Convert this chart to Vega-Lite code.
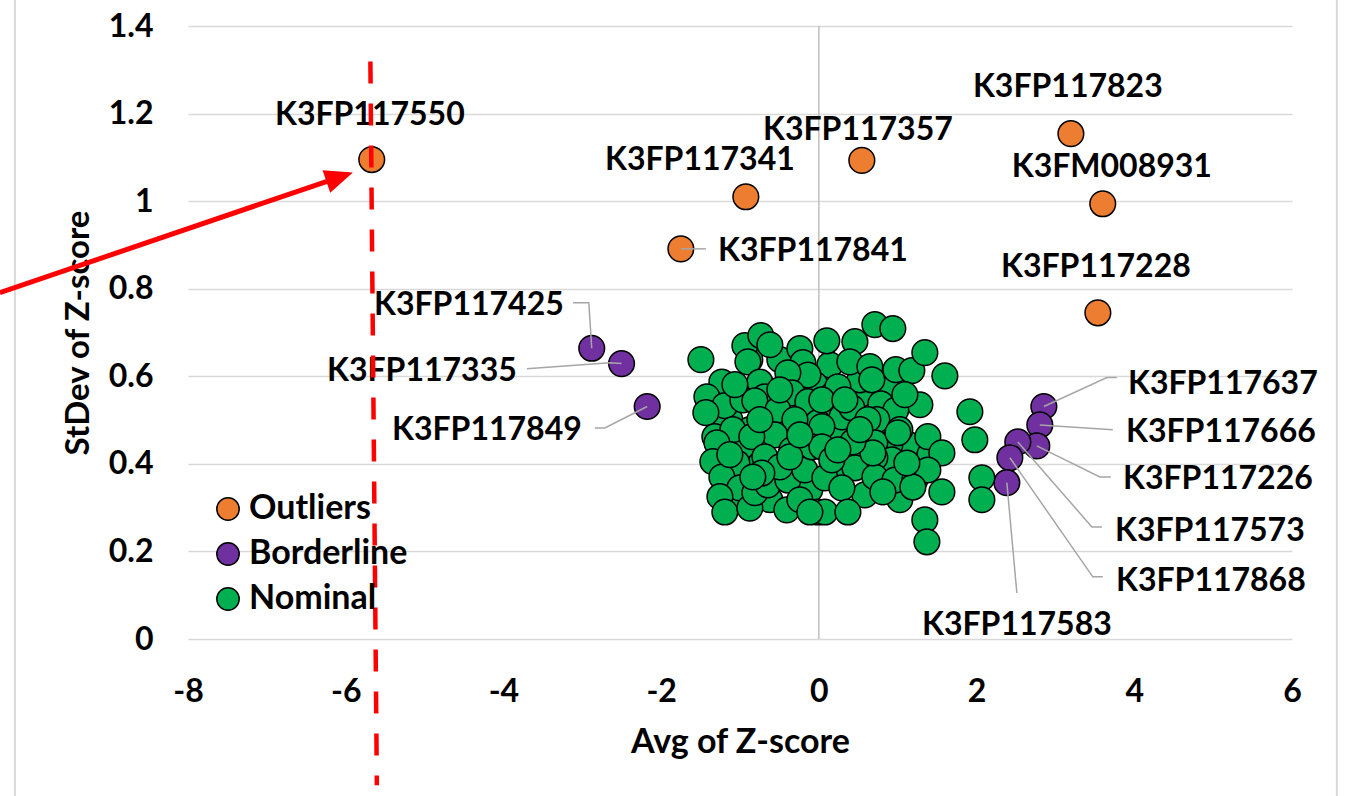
{
  "$schema": "https://vega.github.io/schema/vega-lite/v6.json",
  "width": 1104,
  "height": 613,
  "autosize": {"type": "none"},
  "padding": {"left": 188, "top": 26, "right": 53, "bottom": 157},
  "background": "white",
  "config": {"font": "Lato", "view": {"stroke": null}},
  "datasets": {
    "pts": [
      {"name": "K3FP117550", "x": -5.67, "y": 1.095, "cat": "Outliers"},
      {"name": "K3FP117341", "x": -0.926, "y": 1.010, "cat": "Outliers"},
      {"name": "K3FP117357", "x": 0.545, "y": 1.093, "cat": "Outliers"},
      {"name": "K3FP117841", "x": -1.75, "y": 0.891, "cat": "Outliers"},
      {"name": "K3FP117823", "x": 3.196, "y": 1.154, "cat": "Outliers"},
      {"name": "K3FM008931", "x": 3.60, "y": 0.994, "cat": "Outliers"},
      {"name": "K3FP117228", "x": 3.538, "y": 0.745, "cat": "Outliers"},
      {"name": "K3FP117425", "x": -2.88, "y": 0.664, "cat": "Borderline"},
      {"name": "K3FP117335", "x": -2.502, "y": 0.629, "cat": "Borderline"},
      {"name": "K3FP117849", "x": -2.177, "y": 0.531, "cat": "Borderline"},
      {"name": "K3FP117637", "x": 2.853, "y": 0.531, "cat": "Borderline"},
      {"name": "K3FP117666", "x": 2.802, "y": 0.489, "cat": "Borderline"},
      {"name": "K3FP117226", "x": 2.764, "y": 0.441, "cat": "Borderline"},
      {"name": "K3FP117573", "x": 2.523, "y": 0.450, "cat": "Borderline"},
      {"name": "K3FP117868", "x": 2.422, "y": 0.414, "cat": "Borderline"},
      {"name": "K3FP117583", "x": 2.384, "y": 0.357, "cat": "Borderline"},
      {"x": -1.129, "y": 0.501, "cat": "Nominal"},
      {"x": -0.938, "y": 0.432, "cat": "Nominal"},
      {"x": -0.748, "y": 0.398, "cat": "Nominal"},
      {"x": -0.368, "y": 0.455, "cat": "Nominal"},
      {"x": -0.178, "y": 0.489, "cat": "Nominal"},
      {"x": 0.139, "y": 0.523, "cat": "Nominal"},
      {"x": 0.520, "y": 0.558, "cat": "Nominal"},
      {"x": 0.837, "y": 0.501, "cat": "Nominal"},
      {"x": 1.154, "y": 0.443, "cat": "Nominal"},
      {"x": 0.900, "y": 0.443, "cat": "Nominal"},
      {"x": 0.520, "y": 0.409, "cat": "Nominal"},
      {"x": 0.266, "y": 0.386, "cat": "Nominal"},
      {"x": -0.114, "y": 0.341, "cat": "Nominal"},
      {"x": -0.621, "y": 0.318, "cat": "Nominal"},
      {"x": -1.065, "y": 0.318, "cat": "Nominal"},
      {"x": 0.583, "y": 0.329, "cat": "Nominal"},
      {"x": 1.027, "y": 0.318, "cat": "Nominal"},
      {"x": 1.408, "y": 0.421, "cat": "Nominal"},
      {"x": -0.495, "y": 0.638, "cat": "Nominal"},
      {"x": 0.139, "y": 0.626, "cat": "Nominal"},
      {"x": 0.520, "y": 0.592, "cat": "Nominal"},
      {"x": 0.900, "y": 0.569, "cat": "Nominal"},
      {"x": -1.255, "y": 0.501, "cat": "Nominal"},
      {"x": -0.875, "y": 0.638, "cat": "Nominal"},
      {"x": -0.051, "y": 0.581, "cat": "Nominal"},
      {"x": 0.266, "y": 0.466, "cat": "Nominal"},
      {"x": 1.281, "y": 0.535, "cat": "Nominal"},
      {"x": -1.496, "y": 0.638, "cat": "Nominal"},
      {"x": -0.938, "y": 0.670, "cat": "Nominal"},
      {"x": -0.736, "y": 0.693, "cat": "Nominal"},
      {"x": -0.621, "y": 0.672, "cat": "Nominal"},
      {"x": -0.900, "y": 0.633, "cat": "Nominal"},
      {"x": -0.241, "y": 0.663, "cat": "Nominal"},
      {"x": -0.203, "y": 0.631, "cat": "Nominal"},
      {"x": -0.139, "y": 0.603, "cat": "Nominal"},
      {"x": -0.393, "y": 0.608, "cat": "Nominal"},
      {"x": -0.748, "y": 0.587, "cat": "Nominal"},
      {"x": -1.230, "y": 0.587, "cat": "Nominal"},
      {"x": 0.101, "y": 0.681, "cat": "Nominal"},
      {"x": 0.457, "y": 0.679, "cat": "Nominal"},
      {"x": 0.710, "y": 0.718, "cat": "Nominal"},
      {"x": 0.938, "y": 0.709, "cat": "Nominal"},
      {"x": 0.393, "y": 0.633, "cat": "Nominal"},
      {"x": 0.647, "y": 0.622, "cat": "Nominal"},
      {"x": 0.672, "y": 0.592, "cat": "Nominal"},
      {"x": 0.976, "y": 0.615, "cat": "Nominal"},
      {"x": 1.179, "y": 0.613, "cat": "Nominal"},
      {"x": 1.344, "y": 0.654, "cat": "Nominal"},
      {"x": 1.598, "y": 0.601, "cat": "Nominal"},
      {"x": -1.420, "y": 0.553, "cat": "Nominal"},
      {"x": -1.192, "y": 0.533, "cat": "Nominal"},
      {"x": -1.433, "y": 0.517, "cat": "Nominal"},
      {"x": -0.964, "y": 0.546, "cat": "Nominal"},
      {"x": -0.685, "y": 0.553, "cat": "Nominal"},
      {"x": -0.812, "y": 0.544, "cat": "Nominal"},
      {"x": -0.342, "y": 0.562, "cat": "Nominal"},
      {"x": -0.139, "y": 0.542, "cat": "Nominal"},
      {"x": -0.520, "y": 0.523, "cat": "Nominal"},
      {"x": -0.013, "y": 0.494, "cat": "Nominal"},
      {"x": -0.304, "y": 0.501, "cat": "Nominal"},
      {"x": -0.875, "y": 0.478, "cat": "Nominal"},
      {"x": -1.319, "y": 0.462, "cat": "Nominal"},
      {"x": -0.558, "y": 0.466, "cat": "Nominal"},
      {"x": -1.091, "y": 0.478, "cat": "Nominal"},
      {"x": 0.178, "y": 0.558, "cat": "Nominal"},
      {"x": 0.241, "y": 0.576, "cat": "Nominal"},
      {"x": 0.038, "y": 0.546, "cat": "Nominal"},
      {"x": 0.292, "y": 0.507, "cat": "Nominal"},
      {"x": 0.418, "y": 0.528, "cat": "Nominal"},
      {"x": 0.786, "y": 0.537, "cat": "Nominal"},
      {"x": 0.976, "y": 0.523, "cat": "Nominal"},
      {"x": 0.735, "y": 0.501, "cat": "Nominal"},
      {"x": 1.027, "y": 0.478, "cat": "Nominal"},
      {"x": 0.038, "y": 0.485, "cat": "Nominal"},
      {"x": 0.621, "y": 0.501, "cat": "Nominal"},
      {"x": 1.382, "y": 0.462, "cat": "Nominal"},
      {"x": 1.915, "y": 0.519, "cat": "Nominal"},
      {"x": 1.978, "y": 0.455, "cat": "Nominal"},
      {"x": -1.293, "y": 0.448, "cat": "Nominal"},
      {"x": -0.850, "y": 0.462, "cat": "Nominal"},
      {"x": -0.685, "y": 0.416, "cat": "Nominal"},
      {"x": -1.040, "y": 0.402, "cat": "Nominal"},
      {"x": -1.344, "y": 0.405, "cat": "Nominal"},
      {"x": -1.230, "y": 0.370, "cat": "Nominal"},
      {"x": -1.002, "y": 0.345, "cat": "Nominal"},
      {"x": -1.255, "y": 0.325, "cat": "Nominal"},
      {"x": -1.192, "y": 0.290, "cat": "Nominal"},
      {"x": -0.875, "y": 0.299, "cat": "Nominal"},
      {"x": -0.812, "y": 0.334, "cat": "Nominal"},
      {"x": -0.647, "y": 0.352, "cat": "Nominal"},
      {"x": -0.393, "y": 0.363, "cat": "Nominal"},
      {"x": -0.178, "y": 0.386, "cat": "Nominal"},
      {"x": -0.342, "y": 0.432, "cat": "Nominal"},
      {"x": -0.089, "y": 0.439, "cat": "Nominal"},
      {"x": -0.406, "y": 0.295, "cat": "Nominal"},
      {"x": -0.241, "y": 0.318, "cat": "Nominal"},
      {"x": -0.013, "y": 0.290, "cat": "Nominal"},
      {"x": -0.495, "y": 0.393, "cat": "Nominal"},
      {"x": -0.723, "y": 0.379, "cat": "Nominal"},
      {"x": 0.038, "y": 0.439, "cat": "Nominal"},
      {"x": 0.418, "y": 0.432, "cat": "Nominal"},
      {"x": 0.710, "y": 0.448, "cat": "Nominal"},
      {"x": 1.002, "y": 0.471, "cat": "Nominal"},
      {"x": 1.560, "y": 0.425, "cat": "Nominal"},
      {"x": 0.926, "y": 0.409, "cat": "Nominal"},
      {"x": 0.710, "y": 0.414, "cat": "Nominal"},
      {"x": 0.457, "y": 0.391, "cat": "Nominal"},
      {"x": 0.076, "y": 0.368, "cat": "Nominal"},
      {"x": 0.292, "y": 0.345, "cat": "Nominal"},
      {"x": 0.710, "y": 0.370, "cat": "Nominal"},
      {"x": 0.964, "y": 0.363, "cat": "Nominal"},
      {"x": 1.217, "y": 0.363, "cat": "Nominal"},
      {"x": 1.382, "y": 0.386, "cat": "Nominal"},
      {"x": 0.812, "y": 0.336, "cat": "Nominal"},
      {"x": 1.192, "y": 0.347, "cat": "Nominal"},
      {"x": 1.560, "y": 0.336, "cat": "Nominal"},
      {"x": 0.076, "y": 0.290, "cat": "Nominal"},
      {"x": 0.368, "y": 0.290, "cat": "Nominal"},
      {"x": 1.344, "y": 0.272, "cat": "Nominal"},
      {"x": 1.370, "y": 0.222, "cat": "Nominal"},
      {"x": 2.067, "y": 0.368, "cat": "Nominal"},
      {"x": 2.067, "y": 0.318, "cat": "Nominal"},
      {"x": 0.165, "y": 0.409, "cat": "Nominal"},
      {"x": 1.116, "y": 0.402, "cat": "Nominal"},
      {"x": 0.685, "y": 0.425, "cat": "Nominal"},
      {"x": 0.431, "y": 0.450, "cat": "Nominal"},
      {"x": -0.837, "y": 0.370, "cat": "Nominal"},
      {"x": -0.114, "y": 0.290, "cat": "Nominal"},
      {"x": 0.241, "y": 0.432, "cat": "Nominal"},
      {"x": -0.368, "y": 0.416, "cat": "Nominal"},
      {"x": -0.495, "y": 0.569, "cat": "Nominal"},
      {"x": -0.748, "y": 0.501, "cat": "Nominal"},
      {"x": -1.129, "y": 0.421, "cat": "Nominal"},
      {"x": 0.520, "y": 0.478, "cat": "Nominal"},
      {"x": -0.241, "y": 0.466, "cat": "Nominal"},
      {"x": 0.330, "y": 0.546, "cat": "Nominal"},
      {"x": -1.065, "y": 0.581, "cat": "Nominal"},
      {"x": 1.091, "y": 0.558, "cat": "Nominal"}
    ],
    "labels": [
      {"name": "K3FP117550", "x": -5.694, "y": 1.202},
      {"name": "K3FP117341", "x": -1.509, "y": 1.099},
      {"name": "K3FP117357", "x": 0.495, "y": 1.168},
      {"name": "K3FP117841", "x": -0.076, "y": 0.891},
      {"name": "K3FP117823", "x": 3.157, "y": 1.266},
      {"name": "K3FM008931", "x": 3.715, "y": 1.083},
      {"name": "K3FP117228", "x": 3.513, "y": 0.855},
      {"name": "K3FP117425", "x": -4.438, "y": 0.768},
      {"name": "K3FP117335", "x": -5.034, "y": 0.617},
      {"name": "K3FP117849", "x": -4.210, "y": 0.482},
      {"name": "K3FP117637", "x": 5.123, "y": 0.587},
      {"name": "K3FP117666", "x": 5.098, "y": 0.478},
      {"name": "K3FP117226", "x": 5.060, "y": 0.370},
      {"name": "K3FP117573", "x": 4.958, "y": 0.251},
      {"name": "K3FP117868", "x": 4.971, "y": 0.137},
      {"name": "K3FP117583", "x": 2.511, "y": 0.037}
    ],
    "leaders": [
      {"name": "K3FP117841", "ord": 1, "x": -1.75, "y": 0.891},
      {"name": "K3FP117841", "ord": 2, "x": -1.433, "y": 0.891},
      {"name": "K3FP117425", "ord": 1, "x": -2.88, "y": 0.664},
      {"name": "K3FP117425", "ord": 2, "x": -2.917, "y": 0.768},
      {"name": "K3FP117425", "ord": 3, "x": -3.119, "y": 0.768},
      {"name": "K3FP117335", "ord": 1, "x": -2.502, "y": 0.629},
      {"name": "K3FP117335", "ord": 2, "x": -2.650, "y": 0.631},
      {"name": "K3FP117335", "ord": 3, "x": -3.703, "y": 0.617},
      {"name": "K3FP117849", "ord": 1, "x": -2.177, "y": 0.531},
      {"name": "K3FP117849", "ord": 2, "x": -2.714, "y": 0.482},
      {"name": "K3FP117849", "ord": 3, "x": -2.840, "y": 0.482},
      {"name": "K3FP117637", "ord": 1, "x": 2.853, "y": 0.531},
      {"name": "K3FP117637", "ord": 2, "x": 3.652, "y": 0.597},
      {"name": "K3FP117637", "ord": 3, "x": 3.779, "y": 0.597},
      {"name": "K3FP117666", "ord": 1, "x": 2.802, "y": 0.489},
      {"name": "K3FP117666", "ord": 2, "x": 3.728, "y": 0.478},
      {"name": "K3FP117226", "ord": 1, "x": 2.764, "y": 0.441},
      {"name": "K3FP117226", "ord": 2, "x": 3.563, "y": 0.370},
      {"name": "K3FP117226", "ord": 3, "x": 3.703, "y": 0.370},
      {"name": "K3FP117573", "ord": 1, "x": 2.523, "y": 0.450},
      {"name": "K3FP117573", "ord": 2, "x": 3.462, "y": 0.256},
      {"name": "K3FP117573", "ord": 3, "x": 3.589, "y": 0.256},
      {"name": "K3FP117868", "ord": 1, "x": 2.422, "y": 0.414},
      {"name": "K3FP117868", "ord": 2, "x": 3.474, "y": 0.142},
      {"name": "K3FP117868", "ord": 3, "x": 3.601, "y": 0.142},
      {"name": "K3FP117583", "ord": 1, "x": 2.384, "y": 0.357},
      {"name": "K3FP117583", "ord": 2, "x": 2.511, "y": 0.105}
    ],
    "arrow": [
      {"ord": 1, "x": -10.386, "y": 0.791},
      {"ord": 2, "x": -6.077, "y": 1.055}
    ],
    "head": [{"x": -6.077, "y": 1.055}],
    "dash": [
      {"ord": 1, "x": -5.687, "y": 1.319},
      {"ord": 2, "x": -5.605, "y": -0.334}
    ],
    "frame": [
      {"x": -10.195, "y": 1.461, "y2": -0.359},
      {"x": 6.569, "y": 1.461, "y2": -0.359}
    ],
    "zero": [{"x": 0, "y": 0, "y2": 1.4}]
  },
  "encoding": {
    "x": {
      "field": "x", "type": "quantitative",
      "scale": {"domain": [-8, 6], "nice": false, "zero": false},
      "axis": {
        "title": "Avg of Z-score", "values": [-8, -6, -4, -2, 0, 2, 4, 6],
        "labelExpr": "datum.value < 0 ? '-' + abs(datum.value) : '' + datum.value",
        "labelFlush": false, "labelOverlap": false,
        "grid": false, "domain": false, "ticks": false,
        "labelFont": "Lato", "labelFontSize": 32, "labelFontWeight": "bold", "labelColor": "#000000", "labelPadding": 37,
        "titleFont": "Lato", "titleFontSize": 34, "titleFontWeight": "bold", "titleColor": "#000000", "titlePadding": 18
      }
    },
    "y": {
      "field": "y", "type": "quantitative",
      "scale": {"domain": [0, 1.4], "nice": false, "zero": false},
      "axis": {
        "title": "StDev of Z-score", "values": [0, 0.2, 0.4, 0.6, 0.8, 1, 1.2, 1.4],
        "labelExpr": "'' + datum.value",
        "labelFlush": false, "labelOverlap": false,
        "grid": true, "gridColor": "#d9d9d9", "gridWidth": 1.5,
        "domain": false, "ticks": false,
        "labelFont": "Lato", "labelFontSize": 32, "labelFontWeight": "bold", "labelColor": "#000000", "labelPadding": 35,
        "titleFont": "Lato", "titleFontSize": 33, "titleFontWeight": "bold", "titleColor": "#000000", "titlePadding": 13
      }
    }
  },
  "layer": [
    {
      "data": {"name": "frame"},
      "mark": {"type": "rule", "color": "#d9d9d9", "strokeWidth": 2},
      "encoding": {"y2": {"field": "y2"}}
    },
    {
      "data": {"name": "zero"},
      "mark": {"type": "rule", "color": "#bfbfbf", "strokeWidth": 1.5},
      "encoding": {"y2": {"field": "y2"}}
    },
    {
      "data": {"name": "pts"},
      "mark": {"type": "point", "filled": true, "shape": "circle", "size": 660, "stroke": "#000000", "strokeWidth": 1.5, "opacity": 1},
      "encoding": {
        "color": {
          "field": "cat", "type": "nominal",
          "scale": {"domain": ["Outliers", "Borderline", "Nominal"], "range": ["#ED7D31", "#7030A0", "#00B050"]},
          "legend": {
            "orient": "none", "legendX": 23, "legendY": 466, "title": null, "padding": 0,
            "symbolType": "circle", "symbolSize": 500, "symbolStrokeColor": "#000000", "symbolStrokeWidth": 1.5, "symbolOpacity": 1,
            "labelFont": "Lato", "labelFontSize": 34, "labelFontWeight": "bold", "labelColor": "#000000",
            "labelOffset": 4, "rowPadding": 11
          }
        }
      }
    },
    {
      "data": {"name": "leaders"},
      "mark": {"type": "line", "color": "#a6a6a6", "strokeWidth": 1.5},
      "encoding": {
        "detail": {"field": "name", "type": "nominal"},
        "order": {"field": "ord", "type": "quantitative"}
      }
    },
    {
      "data": {"name": "labels"},
      "mark": {"type": "text", "font": "Lato", "fontSize": 32, "fontWeight": "bold", "color": "#000000", "align": "center", "baseline": "middle", "dy": 2},
      "encoding": {
        "text": {"field": "name", "type": "nominal"}
      }
    },
    {
      "data": {"name": "dash"},
      "mark": {"type": "line", "color": "#ff0000", "strokeWidth": 4.5, "strokeDash": [22, 20]},
      "encoding": {
        "order": {"field": "ord", "type": "quantitative"}
      }
    },
    {
      "data": {"name": "arrow"},
      "mark": {"type": "line", "color": "#ff0000", "strokeWidth": 5},
      "encoding": {
        "order": {"field": "ord", "type": "quantitative"}
      }
    },
    {
      "data": {"name": "head"},
      "mark": {"type": "point", "shape": "M1,0L-1,-0.85L-1,0.85Z", "size": 784, "filled": true, "color": "#ff0000", "opacity": 1, "strokeWidth": 0, "angle": -18.8},
      "encoding": {}
    }
  ]
}
